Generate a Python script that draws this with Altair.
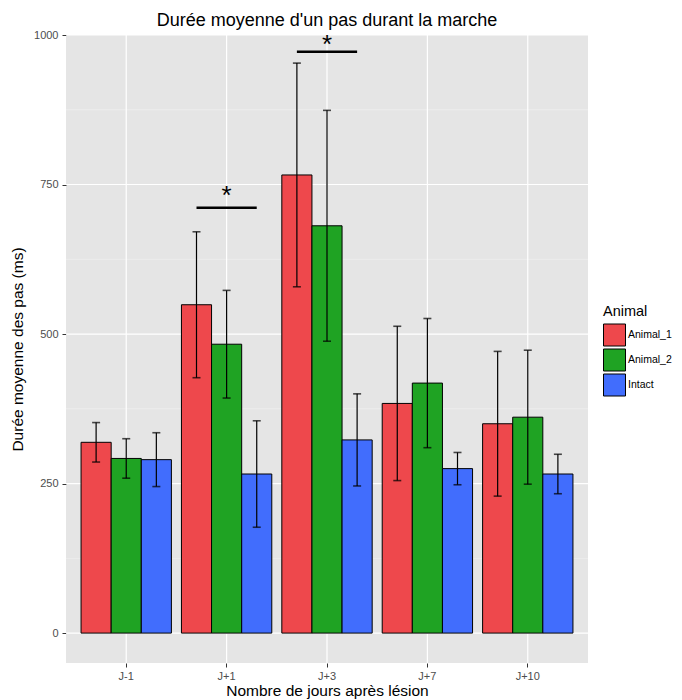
import altair as alt
import pandas as pd

days = ["J-1", "J+1", "J+3", "J+7", "J+10"]
animals = ["Animal_1", "Animal_2", "Intact"]
colors = ["#EE484C", "#1FA323", "#416DFD"]

mean_a1 = [319, 549, 766, 384, 350]
mean_a2 = [292, 483, 681, 418, 361]
mean_in = [290, 266, 323, 275, 266]
sd_a1 = [33, 122, 187, 129, 121]
sd_a2 = [33, 90, 193, 108, 112]
sd_in = [45, 89, 77, 27, 33]

sig_days = ["J+1", "J+3"]
sig_line_y = [711, 972]
sig_star_y = [738, 990]
sig_label = ["*", "*"]

major_breaks = [0, 250, 500, 750, 1000]
minor_breaks = [125, 375, 625, 875]

rows = []
for a, m, s in zip(animals, [mean_a1, mean_a2, mean_in], [sd_a1, sd_a2, sd_in]):
    for d, mv, sv in zip(days, m, s):
        rows.append({"day": d, "animal": a, "mean": mv, "lo": mv - sv, "hi": mv + sv})
df = pd.DataFrame(rows)
sig_df = pd.DataFrame({"day": sig_days, "y": sig_line_y, "ys": sig_star_y, "lab": sig_label})
minor_df = pd.DataFrame({"v": minor_breaks})
major_df = pd.DataFrame({"v": major_breaks})
days_df = pd.DataFrame({"day": days})

YT = "Durée moyenne des pas (ms)"
XT = "Nombre de jours après lésion"
yscale = alt.Scale(domain=[-50, 1000], nice=False, zero=False)
xscale = alt.Scale(domain=days, paddingInner=0.1, paddingOuter=0.15)
yaxis = alt.Axis(values=major_breaks, format="d")

def X(**kw):
    return alt.X("day:N", sort=days, scale=xscale, title=XT, **kw)

def Y(f):
    return alt.Y(f, scale=yscale, title=YT, axis=yaxis)

xoff = alt.XOffset("animal:N", sort=animals, scale=alt.Scale(paddingInner=0, paddingOuter=0))

minor = alt.Chart(minor_df).mark_rule(color="#F2F2F2", strokeWidth=0.6).encode(y=Y("v:Q"))
major = alt.Chart(major_df).mark_rule(color="white", strokeWidth=1.2).encode(y=Y("v:Q"))
vgrid = alt.Chart(days_df).mark_rule(color="white", strokeWidth=1.2).encode(x=X())

bars = alt.Chart(df).mark_bar(stroke="black", strokeWidth=1).encode(
    x=X(),
    xOffset=xoff,
    y=Y("mean:Q"),
    y2=alt.datum(0),
    fill=alt.Fill("animal:N", sort=animals,
                  scale=alt.Scale(domain=animals, range=colors),
                  legend=alt.Legend(title="Animal")),
)
err = alt.Chart(df).mark_rule(color="black", strokeWidth=1.2).encode(
    x=X(), xOffset=xoff, y=Y("lo:Q"), y2="hi:Q")
cap_lo = alt.Chart(df).mark_tick(color="black", size=8, thickness=1.6).encode(
    x=X(), xOffset=xoff, y=Y("lo:Q"))
cap_hi = alt.Chart(df).mark_tick(color="black", size=8, thickness=1.6).encode(
    x=X(), xOffset=xoff, y=Y("hi:Q"))

sig = alt.Chart(sig_df).mark_rule(color="black", strokeWidth=2.5).encode(
    x=X(bandPosition=1 / 6),
    x2=alt.X2("day", bandPosition=5 / 6),
    y=Y("y:Q"),
)
star = alt.Chart(sig_df).mark_text(fontSize=26, font="Liberation Sans", baseline="middle", dy=4).encode(
    x=X(), y=Y("ys:Q"), text="lab:N")

chart = alt.layer(minor, major, vgrid, bars, err, cap_lo, cap_hi, sig, star).properties(
    width=522, height=628,
    autosize=alt.AutoSizeParams(type="none"),
    padding={"left": 58, "top": 27, "right": 86, "bottom": 37},
    title=alt.Title("Durée moyenne d'un pas durant la marche", fontSize=18, font="Liberation Sans",
                    fontWeight="normal", color="black", anchor="middle", offset=-1),
).configure_view(fill="#E5E5E5", stroke=None).configure_axis(
    grid=False, domain=False, tickColor="#333333", tickSize=4, tickWidth=1,
    labelFont="Liberation Sans", labelFontSize=11, labelColor="#4D4D4D",
    titleFont="Liberation Sans", titleFontSize=15.5, titleFontWeight="normal", titleColor="black",
).configure_axisY(
    labelPadding=4, titlePadding=8,
).configure_axisX(
    labelAngle=0, labelPadding=3, titlePadding=2,
).configure_legend(
    orient="none", legendX=537, legendY=270,
    titleFont="Liberation Sans", titleFontSize=14.5, titleFontWeight="normal", titleColor="black",
    labelFont="Liberation Sans", labelFontSize=10.5, labelColor="black",
    symbolType="square", symbolSize=484, symbolStrokeColor="black", symbolStrokeWidth=1,
    symbolOpacity=1, rowPadding=-3.5, titlePadding=4, labelOffset=2,
)

chart.save("out.html", embed_options={"renderer": "svg", "actions": False})
